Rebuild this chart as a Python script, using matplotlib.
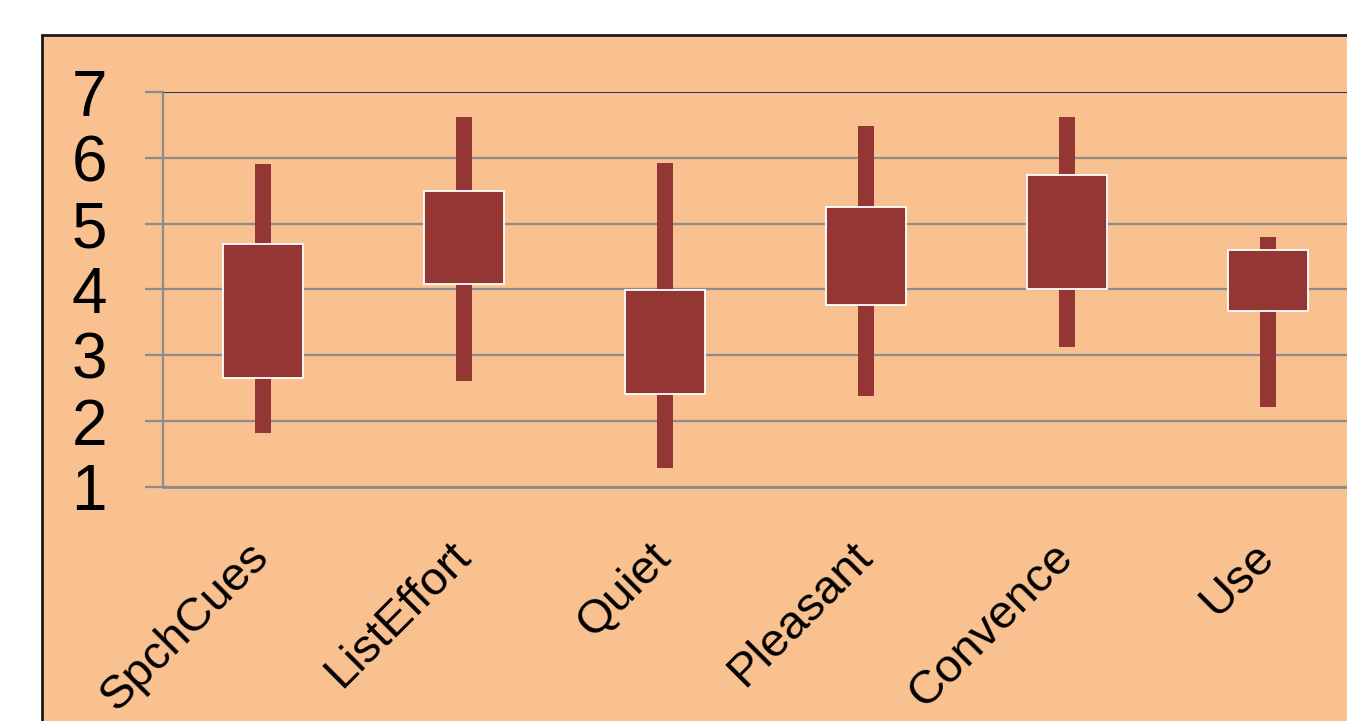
import matplotlib.pyplot as plt
from matplotlib.patches import Rectangle
from matplotlib.transforms import ScaledTranslation

plt.rcParams['font.family'] = ['Liberation Sans', 'DejaVu Sans']

categories = ["SpchCues", "ListEffort", "Quiet", "Pleasant", "Convence", "Use"]
low = [1.82, 2.61, 1.29, 2.38, 3.13, 2.22]
q1 = [2.66, 4.08, 2.41, 3.76, 4.01, 3.67]
q3 = [4.69, 5.50, 3.99, 5.25, 5.74, 4.60]
high = [5.91, 6.62, 5.92, 6.48, 6.62, 4.80]
yticks = [1, 2, 3, 4, 5, 6, 7]

peach = "#F9C090"
brick = "#943634"
grid_gray = "#8C8C8C"

fig = plt.figure(figsize=(13.47, 7.21), dpi=100)
fig.patch.set_facecolor("white")

# peach slide panel behind the chart
fig.patches.append(Rectangle((42 / 1347, -0.05), 1.1, 1 - 35 / 721 + 0.05,
                             transform=fig.transFigure, facecolor=peach,
                             edgecolor="#1a1a1a", linewidth=2.0, zorder=-10))

ax = fig.add_axes([162.5 / 1347, (721 - 487) / 721, 1206 / 1347, 395 / 721])
ax.set_facecolor("none")

x = list(range(len(categories)))

# whiskers from min to max, then the interquartile box on top
ax.bar(x, [h - l for h, l in zip(high, low)], bottom=low, width=0.08,
       color=brick, edgecolor="none", zorder=3)
ax.bar(x, [b - a for a, b in zip(q1, q3)], bottom=q1, width=0.4,
       color=brick, edgecolor="white", linewidth=1.3, zorder=4)

ax.set_xlim(-0.5, 5.5)
ax.set_ylim(1, 7)
ax.set_yticks(yticks)
ax.set_yticklabels([str(t) for t in yticks], fontsize=46)
ax.yaxis.grid(True, color=grid_gray, linewidth=1.6, zorder=1)
ax.set_axisbelow(True)

for side in ["top", "right"]:
    ax.spines[side].set_visible(False)
ax.spines["left"].set_color(grid_gray)
ax.spines["left"].set_linewidth(1.6)
ax.spines["bottom"].set_color(grid_gray)
ax.spines["bottom"].set_linewidth(2.0)
ax.axhline(7, color="#1F3A60", linewidth=1.4, zorder=2)

ax.tick_params(axis="y", length=13, width=1.6, color=grid_gray, pad=27)
ax.tick_params(axis="x", length=0, pad=34)

ax.set_xticks(x)
ax.set_xticklabels(categories, fontsize=34, rotation=45, ha="right", va="top")
shift = ScaledTranslation(15 / 100, 0, fig.dpi_scale_trans)
for lbl in ax.get_xticklabels():
    lbl.set_transform(lbl.get_transform() + shift)

fig.savefig("out.png", dpi=100)
